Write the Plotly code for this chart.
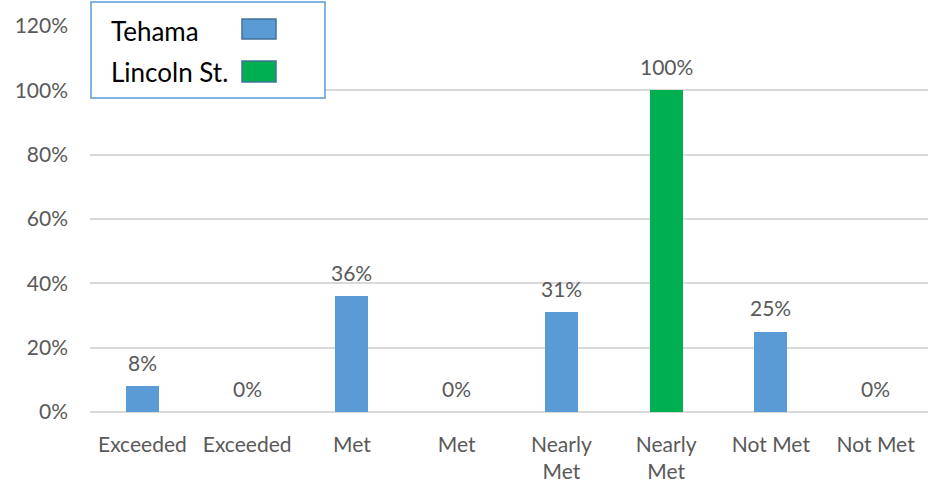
import plotly.graph_objects as go

categories = ["Exceeded", "Exceeded", "Met", "Met", "Nearly<br>Met", "Nearly<br>Met", "Not Met", "Not Met"]
series = ["Tehama", "Lincoln St.", "Tehama", "Lincoln St.", "Tehama", "Lincoln St.", "Tehama", "Lincoln St."]
values = [8, 0, 36, 0, 31, 100, 25, 0]
y_ticks = [0, 20, 40, 60, 80, 100, 120]
colors = {"Tehama": "#5B9BD5", "Lincoln St.": "#00B050"}

W, H = 935, 483
L, R, T, B = 90, 7, 26, 71
pw, ph = W - L - R, H - T - B

def px_x(x):
    return (x - L) / pw

def px_y(y):
    return (H - B - y) / ph

FONT = "Lato, 'Open Sans', sans-serif"
GRAY = "#595959"
FS = 21
positions = list(range(len(categories)))

fig = go.Figure()
fig.add_trace(go.Bar(
    x=positions,
    y=values,
    width=0.315,
    marker=dict(color=[colors[s] for s in series], line=dict(width=0)),
    showlegend=False,
    hoverinfo="skip",
))

annotations = []
for p, v in zip(positions, values):
    annotations.append(dict(x=p, y=v, xref="x", yref="y", text=f"{v}%",
                            showarrow=False, xanchor="center", yanchor="middle",
                            yshift=24, font=dict(family=FONT, size=FS, color=GRAY)))

fig.update_layout(
    width=W, height=H,
    margin=dict(l=L, r=R, t=T, b=B, autoexpand=False),
    plot_bgcolor="white", paper_bgcolor="white",
    font=dict(family=FONT, size=FS, color=GRAY),
    bargap=0,
    xaxis=dict(
        range=[-0.5, len(categories) - 0.5],
        tickvals=positions, ticktext=categories,
        showgrid=False, zeroline=False, showline=False,
        ticks="", ticklabelstandoff=18, automargin=False,
        tickfont=dict(family=FONT, size=FS, color=GRAY),
    ),
    yaxis=dict(
        range=[0, 120],
        tickvals=y_ticks, ticktext=[f"{v}%" for v in y_ticks],
        showgrid=True, gridcolor="#D9D9D9", gridwidth=1.5,
        zeroline=True, zerolinecolor="#D9D9D9", zerolinewidth=1.5,
        ticks="", ticklabelstandoff=21, automargin=False,
        tickfont=dict(family=FONT, size=FS, color=GRAY),
    ),
)

# custom legend (text on left, swatch on right), positioned in paper coords
shapes = [dict(type="rect", xref="paper", yref="paper",
               x0=px_x(91), x1=px_x(325), y0=px_y(98), y1=px_y(2),
               line=dict(color="#5B9BD5", width=1.5), fillcolor="white", layer="above")]
legend_rows = [("Tehama", 31, 19, 39), ("Lincoln St.", 72, 61, 82)]
for name, ty, sy0, sy1 in legend_rows:
    annotations.append(dict(xref="paper", yref="paper", x=px_x(109), y=px_y(ty),
                            xanchor="left", yanchor="middle", text=name, showarrow=False,
                            font=dict(family=FONT, size=26, color="#000000")))
    shapes.append(dict(type="rect", xref="paper", yref="paper",
                       x0=px_x(242), x1=px_x(276), y0=px_y(sy1), y1=px_y(sy0),
                       line=dict(color="#41719C", width=1.5), fillcolor=colors[name], layer="above"))
fig.update_layout(shapes=shapes, annotations=annotations)

fig.write_html("out.html")
